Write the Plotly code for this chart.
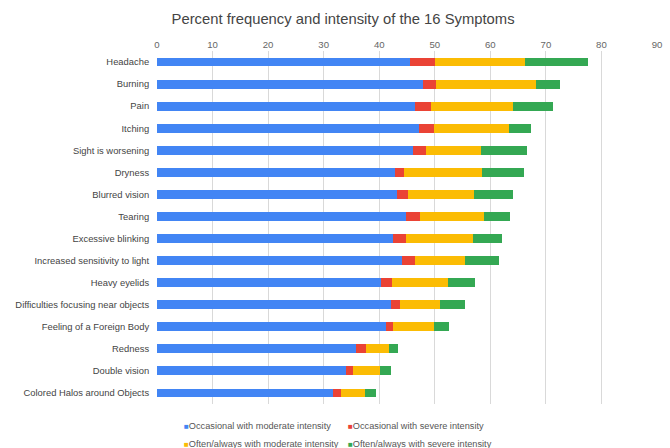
import plotly.graph_objects as go

symptoms = ["Headache", "Burning", "Pain", "Itching", "Sight is worsening", "Dryness",
            "Blurred vision", "Tearing", "Excessive blinking", "Increased sensitivity to light",
            "Heavy eyelids", "Difficulties focusing near objects", "Feeling of a Foreign Body",
            "Redness", "Double vision", "Colored Halos around Objects"]

occ_moderate = [45.5, 47.8, 46.4, 47.2, 46.1, 42.8, 43.2, 44.9, 42.5, 44.1, 40.4, 42.1, 41.2, 35.9, 34.1, 31.7]
occ_severe = [4.5, 2.4, 3.0, 2.6, 2.4, 1.6, 1.9, 2.4, 2.3, 2.3, 1.9, 1.7, 1.3, 1.7, 1.2, 1.5]
often_moderate = [16.2, 18.0, 14.6, 13.6, 9.8, 14.1, 11.9, 11.6, 12.0, 9.1, 10.0, 7.1, 7.3, 4.1, 4.9, 4.2]
often_severe = [11.4, 4.3, 7.3, 4.0, 8.3, 7.6, 7.1, 4.7, 5.3, 6.1, 4.9, 4.5, 2.8, 1.7, 1.9, 2.0]

series_names = ["Occasional with moderate intensity", "Occasional with severe intensity",
                "Often/always with moderate intensity", "Often/always with severe intensity"]
series_values = [occ_moderate, occ_severe, often_moderate, often_severe]
colors = ["#4285F4", "#EA4335", "#FBBC04", "#34A853"]

fig = go.Figure()
for name, vals, col in zip(series_names, series_values, colors):
    fig.add_trace(go.Bar(y=symptoms, x=vals, name=name, orientation="h",
                         marker=dict(color=col, line=dict(width=0)), showlegend=False))

# legend drawn as text annotations (two rows, two columns)
leg_pos = [(0.049, -0.062), (0.378, -0.062), (0.049, -0.114), (0.378, -0.114)]
for name, col, (lx, ly) in zip(series_names, colors, leg_pos):
    fig.add_annotation(x=lx, y=ly, xref="paper", yref="paper", xanchor="left", yanchor="middle",
                       showarrow=False,
                       text=f"<span style='color:{col};font-size:8px'>■</span>{name}",
                       font=dict(family="Liberation Sans, Arial", size=9.2, color="#555"))

fig.update_layout(
    width=670, height=448,
    margin=dict(l=157, r=13, t=51, b=44),
    barmode="stack", bargap=0.6,
    plot_bgcolor="white", paper_bgcolor="white",
    font=dict(family="Liberation Sans, Arial", size=9.4, color="#444"),
    title=dict(text="Percent frequency and intensity of the 16 Symptoms",
               x=0.512, xanchor="center", y=0.958, yanchor="middle",
               font=dict(size=14.8, color="#444")),
    xaxis=dict(side="top", range=[0, 90], dtick=10, showgrid=True, gridcolor="#d9d9d9",
               gridwidth=1, zeroline=False, showline=False, ticks="", automargin=False,
               tickfont=dict(size=9.6, color="#666")),
    yaxis=dict(autorange="reversed", showgrid=False, showline=False, ticks="outside",
               ticklen=5, tickcolor="rgba(0,0,0,0)", automargin=False,
               tickfont=dict(size=9.4, color="#444")),
)

fig.write_html("out.html")
